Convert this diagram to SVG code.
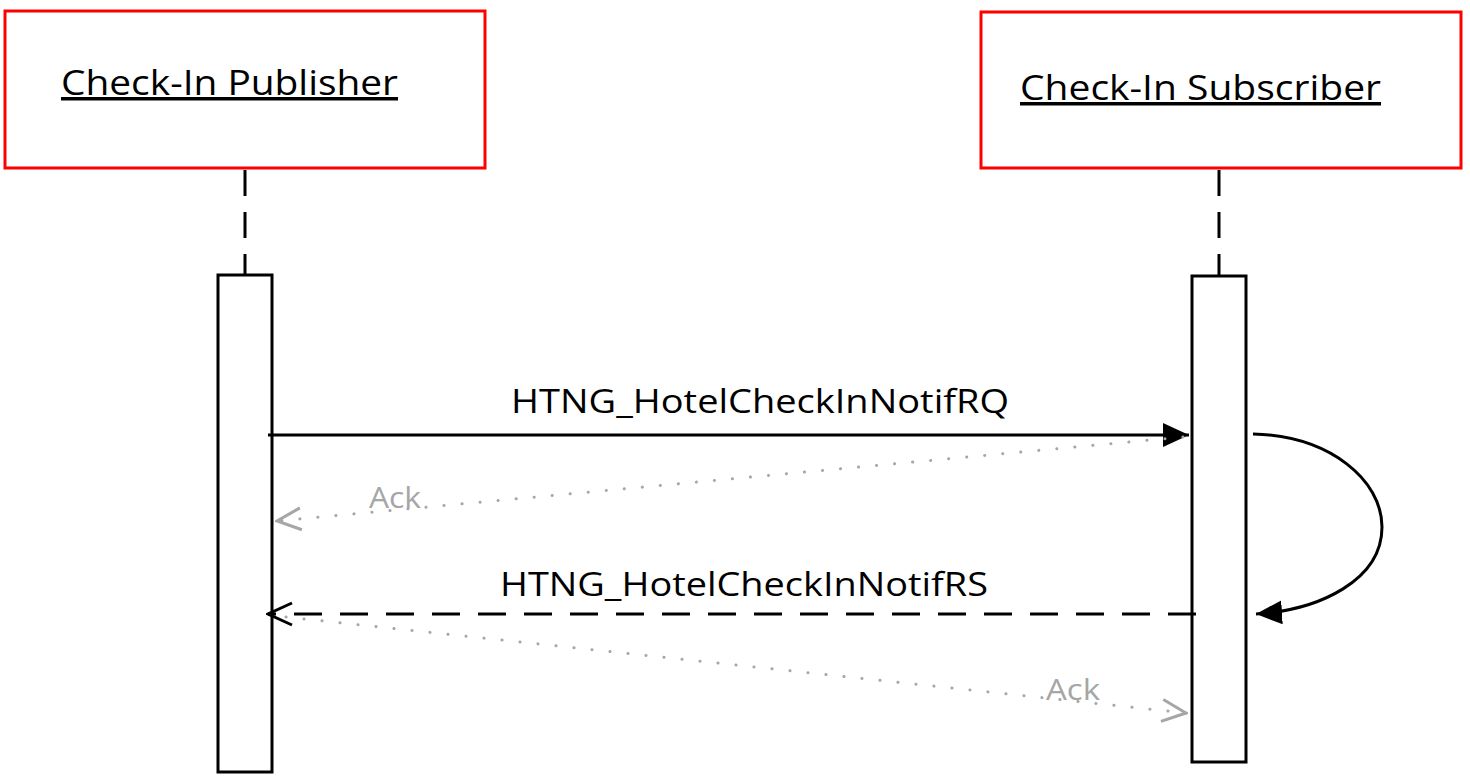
<svg xmlns="http://www.w3.org/2000/svg" width="1470" height="778" viewBox="0 0 1470 778">
<style>
.actor{fill:#fff;stroke:#ff0000;stroke-width:3}
.title{font-family:"Open Sans","Noto Sans",sans-serif;font-size:35px;fill:#000;text-decoration:underline}
.life{stroke:#000;stroke-width:3;stroke-dasharray:26,16;fill:none}
.act{fill:#fff;stroke:#000;stroke-width:3}
.msg{font-family:"Open Sans","Noto Sans",sans-serif;font-size:32px;fill:#000}
.ack{font-family:"Open Sans","Noto Sans",sans-serif;font-size:29px;fill:#a6a6a6}
.solid{stroke:#000;stroke-width:3;fill:none}
.dash{stroke:#000;stroke-width:3;fill:none;stroke-dasharray:28,18}
.dot{stroke:#a6a6a6;stroke-width:3;fill:none;stroke-dasharray:0.1,18;stroke-linecap:round}
</style>
<defs>
<marker id="filled" viewBox="0 0 26 24" refX="26" refY="12" markerWidth="26" markerHeight="24" markerUnits="userSpaceOnUse" orient="auto">
<path d="M0,0 L26,12 L0,24 Z" fill="#000"/>
</marker>
<marker id="openBlack" viewBox="0 0 30 30" refX="28" refY="15" markerWidth="30" markerHeight="30" markerUnits="userSpaceOnUse" orient="auto">
<path d="M4,4 L28,15 L4,26" fill="none" stroke="#000" stroke-width="3"/>
</marker>
<marker id="openGray" viewBox="0 0 30 30" refX="28" refY="15" markerWidth="30" markerHeight="30" markerUnits="userSpaceOnUse" orient="auto">
<path d="M4,4 L28,15 L4,26" fill="none" stroke="#a6a6a6" stroke-width="3"/>
</marker>
</defs>
<rect width="1470" height="778" fill="#fff"/>
<g id="publisher">
<rect class="actor" x="5" y="11" width="480" height="157"/>
<text class="title" x="61" y="95" textLength="337" lengthAdjust="spacingAndGlyphs">Check-In Publisher</text>
<line class="life" x1="245" y1="170" x2="245" y2="275"/>
<rect class="act" x="218" y="275" width="54" height="497"/>
</g>
<g id="subscriber">
<rect class="actor" x="981" y="12" width="480" height="156"/>
<text class="title" x="1020" y="100" textLength="361" lengthAdjust="spacingAndGlyphs">Check-In Subscriber</text>
<line class="life" x1="1219" y1="170" x2="1219" y2="276"/>
<rect class="act" x="1192" y="276" width="54" height="486"/>
</g>
<g id="connectors">
<line class="solid" x1="268" y1="435" x2="1189" y2="435" marker-end="url(#filled)"/>
<text class="msg" x="511" y="413" textLength="498" lengthAdjust="spacingAndGlyphs">HTNG_HotelCheckInNotifRQ</text>
<line class="dot" x1="1183" y1="437" x2="277" y2="521" marker-end="url(#openGray)"/>
<text class="ack" x="369" y="508" textLength="52" lengthAdjust="spacingAndGlyphs">Ack</text>
<path class="solid" d="M1253,434 C1330,436 1382,480 1382,527 C1382,580 1320,610 1256,614" marker-end="url(#filled)"/>
<line class="dash" x1="1196" y1="614" x2="268" y2="614" marker-end="url(#openBlack)"/>
<text class="msg" x="500" y="596" textLength="488" lengthAdjust="spacingAndGlyphs">HTNG_HotelCheckInNotifRS</text>
<line class="dot" x1="286" y1="617" x2="1186" y2="713" marker-end="url(#openGray)"/>
<text class="ack" x="1046" y="700" textLength="54" lengthAdjust="spacingAndGlyphs">Ack</text>
</g>
</svg>
